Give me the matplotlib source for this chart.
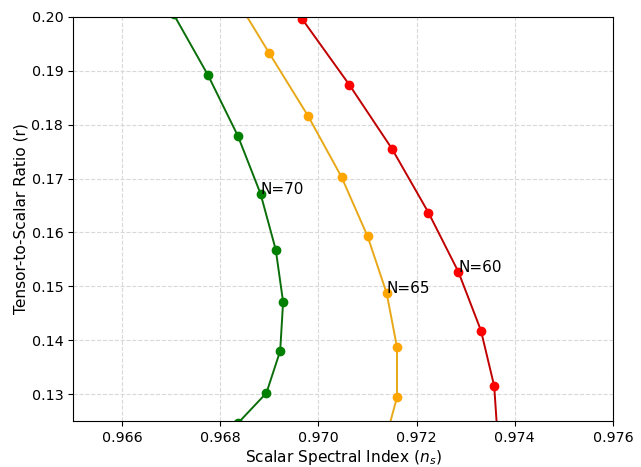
import matplotlib
matplotlib.use("Agg")
import matplotlib.pyplot as plt

# N = 70 (green)
ns_70 = [0.96705, 0.96775, 0.96836, 0.96882, 0.96913, 0.96928, 0.96922, 0.96894, 0.96837, 0.96770]
r_70 = [0.2005, 0.1892, 0.1779, 0.1672, 0.1568, 0.1471, 0.1380, 0.1302, 0.1247, 0.1195]

# N = 65 (orange)
ns_65 = [0.96820, 0.96899, 0.96979, 0.97047, 0.97100, 0.97139, 0.97160, 0.97160, 0.97135]
r_65 = [0.2052, 0.1934, 0.1816, 0.1703, 0.1593, 0.1487, 0.1387, 0.1294, 0.1210]

# N = 60 (red)
ns_60 = [0.96967, 0.97063, 0.97150, 0.97224, 0.97285, 0.97331, 0.97358, 0.97365]
r_60 = [0.1996, 0.1874, 0.1755, 0.1637, 0.1527, 0.1418, 0.1315, 0.1220]

labels = ["N=70", "N=65", "N=60"]
label_idx = [3, 5, 4]

xticks = [0.966, 0.968, 0.970, 0.972, 0.974, 0.976]
yticks = [0.13, 0.14, 0.15, 0.16, 0.17, 0.18, 0.19, 0.20]

fig = plt.figure(figsize=(6.41, 4.67), dpi=100)
ax = fig.add_axes([0.1139, 0.0985, 0.8424, 0.8651])

series = [
    (ns_70, r_70, "#0a6e0a", "green"),
    (ns_65, r_65, "#e8a818", "orange"),
    (ns_60, r_60, "#c00000", "red"),
]
for (xs, ys, lc, mc), lab, idx in zip(series, labels, label_idx):
    ax.plot(xs, ys, color=lc, lw=1.4, marker="o", ms=6,
            markerfacecolor=mc, markeredgecolor=mc)
    ax.text(xs[idx], ys[idx], lab, fontsize=11)

ax.set_xlim(0.965, 0.976)
ax.set_ylim(0.125, 0.20)
ax.set_xticks(xticks)
ax.set_yticks(yticks)
ax.set_xticklabels([f"{v:.3f}" for v in xticks], fontsize=10.3)
ax.set_yticklabels([f"{v:.2f}" for v in yticks], fontsize=10.3)
ax.grid(True, linestyle="--", color="#d9d9d9", linewidth=0.8)
ax.set_xlabel(r"Scalar Spectral Index ($n_s$)", fontsize=11.1, labelpad=2)
ax.set_ylabel("Tensor-to-Scalar Ratio (r)", fontsize=11.1, labelpad=2)

fig.savefig("out.png", dpi=100)
